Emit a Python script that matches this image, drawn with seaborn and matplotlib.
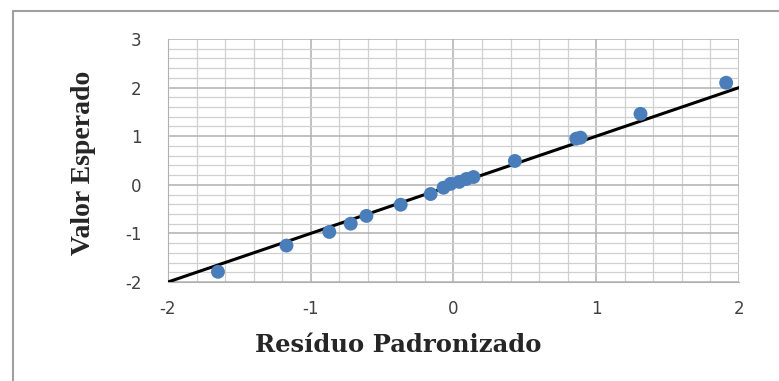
import matplotlib
matplotlib.use("Agg")
import matplotlib.pyplot as plt
import seaborn as sns
import numpy as np
import pandas as pd
from matplotlib.lines import Line2D
from matplotlib.ticker import MultipleLocator

residuo = [-1.65, -1.17, -0.87, -0.72, -0.61, -0.37, -0.16, -0.07, -0.02,
           0.04, 0.09, 0.14, 0.43, 0.86, 0.89, 1.31, 1.91]
esperado = [-1.79, -1.25, -0.97, -0.80, -0.64, -0.41, -0.19, -0.06, 0.02,
            0.06, 0.12, 0.16, 0.49, 0.95, 0.97, 1.46, 2.10]
linha_x = [-2, 2]
linha_y = [-2, 2]
x_ticks = [-2, -1, 0, 1, 2]
y_ticks = [-2, -1, 0, 1, 2, 3]

sns.set_style("white")
plt.rcParams['font.family'] = ['DejaVu Sans']
plt.rcParams['axes.unicode_minus'] = False

fig = plt.figure(figsize=(7.79, 3.81), dpi=100)
W, H = 779, 381
ax = fig.add_axes([168 / W, 1 - 282 / H, (739 - 168) / W, (282 - 39) / H])

df = pd.DataFrame({"x": residuo, "y": esperado})
sns.lineplot(x=linha_x, y=linha_y, ax=ax, color="black", linewidth=2.2, zorder=3)
sns.scatterplot(data=df, x="x", y="y", ax=ax, color="#4A7EBB", s=100,
                edgecolor="none", zorder=4, clip_on=False)

ax.set_xlim(-2, 2)
ax.set_ylim(-2, 3)
ax.set_xticks(x_ticks)
ax.set_yticks(y_ticks)
ax.xaxis.set_minor_locator(MultipleLocator(0.2))
ax.yaxis.set_minor_locator(MultipleLocator(0.2))
ax.grid(which="major", color="#B0B0B0", linewidth=1.1)
ax.grid(which="minor", color="#D0D0D0", linewidth=0.9)
ax.set_axisbelow(True)
for s in ax.spines.values():
    s.set_visible(False)
ax.spines["left"].set_visible(True)
ax.spines["bottom"].set_visible(True)
ax.spines["left"].set_color("#B0B0B0")
ax.spines["bottom"].set_color("#B0B0B0")

ax.tick_params(axis="both", which="major", direction="out", length=7,
               color="#B0B0B0", width=1.1, labelsize=12, labelcolor="#404040")
ax.tick_params(axis="x", pad=6)
ax.tick_params(axis="y", pad=12)
ax.tick_params(which="minor", length=0)

ax.set_xlabel("Resíduo Padronizado", family="DejaVu Serif",
              fontweight="bold", fontsize=17.5)
ax.xaxis.set_label_coords((398 - 168) / 571, (282 - 333) / 243)
ax.set_ylabel("Valor Esperado", family="Liberation Serif",
              fontweight="bold", fontsize=20)
ax.yaxis.set_label_coords((96 - 168) / 571, (282 - 163) / 243)

fig.add_artist(Line2D([13 / W, 13 / W], [0, 1 - 11 / H], color="#A0A0A0",
                      linewidth=1.5, transform=fig.transFigure))
fig.add_artist(Line2D([13 / W, 1], [1 - 11 / H, 1 - 11 / H], color="#A0A0A0",
                      linewidth=1.5, transform=fig.transFigure))

fig.savefig("out.png", dpi=100)
